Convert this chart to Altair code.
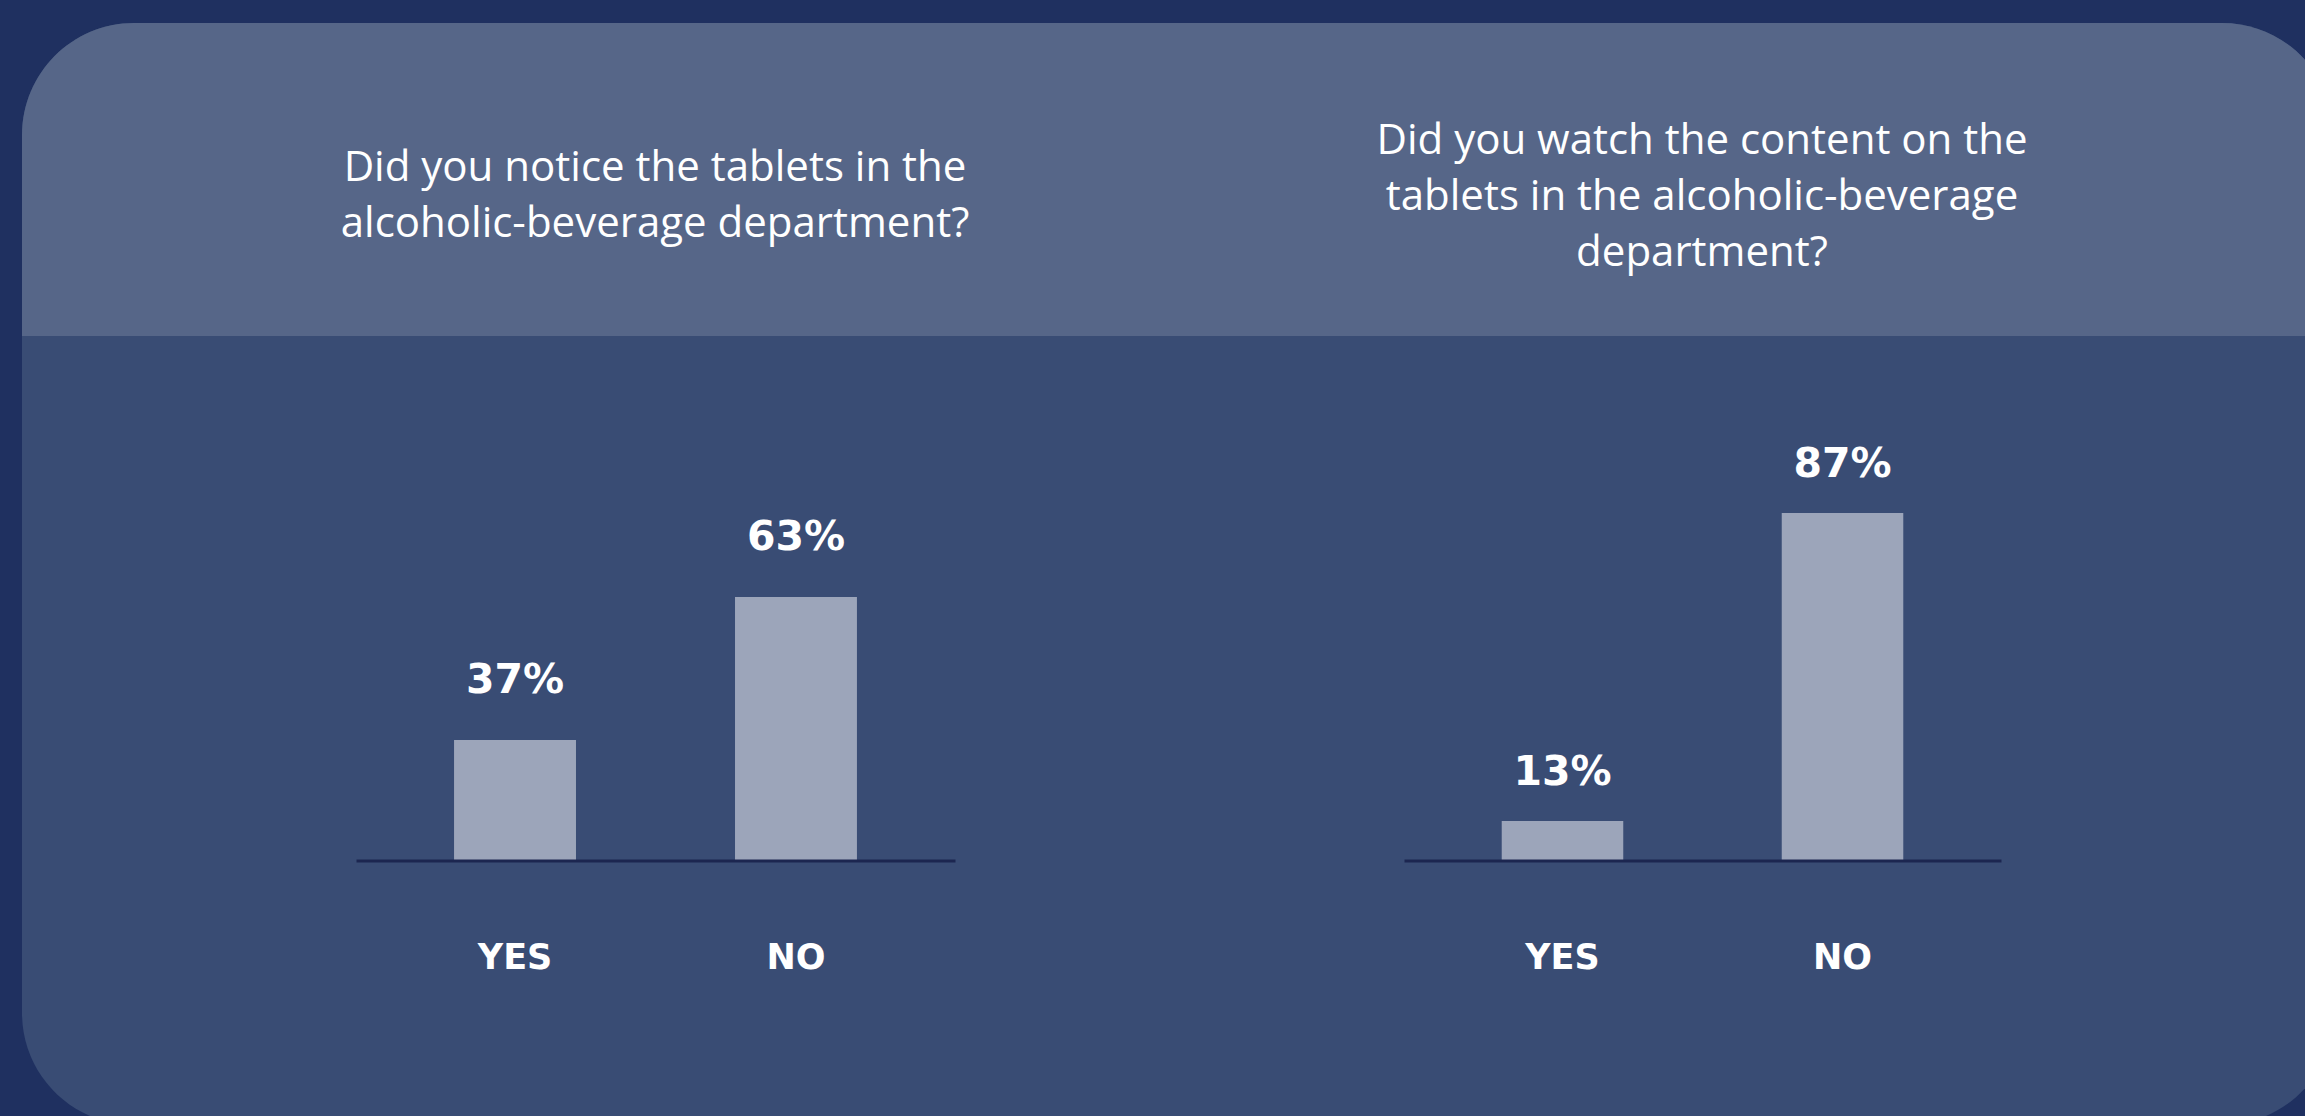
import altair as alt
import pandas as pd

# ---- data ----
answers = ["YES", "NO"]
notice_pct = [37, 63]
watch_pct = [13, 87]
title_notice = ["Did you notice the tablets in the", "alcoholic-beverage department?"]
title_watch = ["Did you watch the content on the", "tablets in the alcoholic-beverage", "department?"]

# ---- style ----
OUTER = "#1f3060"
BODY = "#394c74"
HEADER = "#566688"
BAR = "#9ca5ba"
AXIS = "#1c2650"
FONT = "Open Sans"
WIDE = "DejaVu Sans"
W, H = 2305, 1116

one = pd.DataFrame({"k": [0]})

card = alt.Chart(one).mark_rect(color=BODY, cornerRadius=112).encode(
    x=alt.value(22), x2=alt.value(2334), y=alt.value(23), y2=alt.value(1125)
)
header = alt.Chart(one).mark_rect(
    color=HEADER, cornerRadiusTopLeft=112, cornerRadiusTopRight=112
).encode(x=alt.value(22), x2=alt.value(2334), y=alt.value(23), y2=alt.value(336))


def panel(values, dmin, y_top, x_range, title_lines, title_x, title_y, dy):
    df = pd.DataFrame({"answer": answers, "pct": values})
    base = alt.Chart(df).transform_calculate(label="datum.pct + '%'")
    xenc = alt.X(
        "answer:N",
        sort=answers,
        scale=alt.Scale(range=x_range, paddingInner=0.566, paddingOuter=0.349),
        axis=alt.Axis(
            orient="bottom", offset=-255.5, title=None, ticks=False, grid=False,
            domainColor=AXIS, domainWidth=3, labelColor="white", labelFont=WIDE,
            labelFontSize=35, labelFontWeight="bold", labelPadding=108,
            labelBaseline="alphabetic", labelAngle=0, zindex=1,
        ),
    )
    yscale = alt.Scale(domain=[dmin, 100], range=[860, y_top], clamp=True, zero=False, nice=False)
    bars = base.mark_bar(color=BAR).encode(
        x=xenc, y=alt.Y("pct:Q", scale=yscale, axis=None), y2=alt.datum(0)
    )
    labels = base.mark_text(
        dy=dy, baseline="alphabetic", align="center", color="white",
        font=WIDE, fontSize=41, fontWeight="bold",
    ).encode(x=alt.X("answer:N", sort=answers), y=alt.Y("pct:Q"), text="label:N")
    title = alt.Chart(one).mark_text(
        align="center", baseline="alphabetic", color="white", font=FONT,
        fontSize=42, lineHeight=56,
    ).encode(x=alt.value(title_x), y=alt.value(title_y), text=alt.value(title_lines))
    return alt.layer(bars, labels, title)


p1 = panel(notice_pct, 15.2, 393.6, [356, 955], title_notice, 655, 181, -47)
p2 = panel(watch_pct, 3.63, 458.9, [1404, 2001], title_watch, 1702, 154, -36)

chart = (
    alt.layer(card, header, p1, p2)
    .resolve_scale(x="independent", y="independent")
    .properties(
        width=W, height=H, padding=0,
        autosize=alt.AutoSizeParams(type="none"),
        background=OUTER,
    )
    .configure_view(stroke=None)
)

chart.save("out.html", embed_options={"renderer": "svg", "actions": False})
